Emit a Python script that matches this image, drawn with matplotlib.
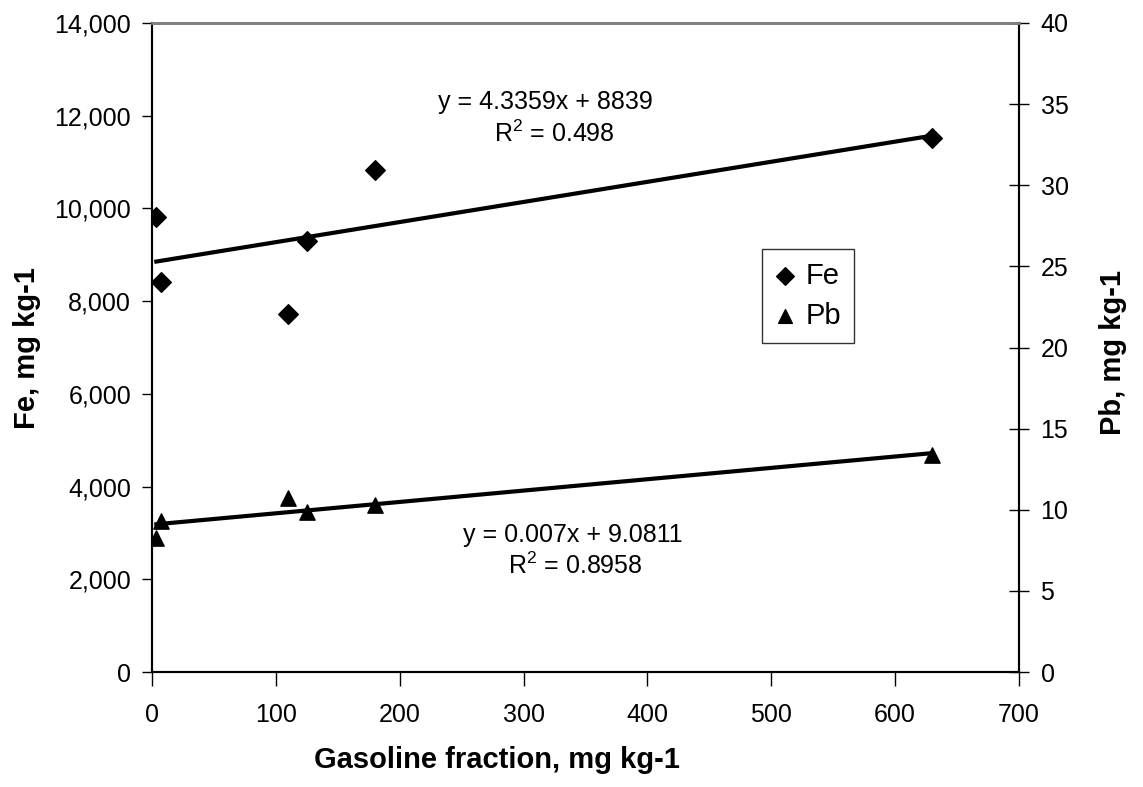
import matplotlib.pyplot as plt
import numpy as np

plt.rcParams['font.family'] = ['Liberation Sans', 'DejaVu Sans']
plt.rcParams['mathtext.default'] = 'regular'

# gasoline fraction (mg/kg) and metal contents
gasoline = [3.5, 7, 110, 125, 180, 630]
fe = [9820, 8420, 7720, 9300, 10830, 11510]
pb = [8.25, 9.3, 10.75, 9.85, 10.3, 13.4]

# fitted trend lines as printed on the chart
fe_slope, fe_icpt = 4.3359, 8839
pb_slope, pb_icpt = 0.007, 9.0811

fig = plt.figure(figsize=(11.43, 7.87), dpi=100)
ax = fig.add_axes([152 / 1143, 1 - 672 / 787, 867 / 1143, 649 / 787])
ax2 = ax.twinx()

xs = np.array([min(gasoline), max(gasoline)])
ax.plot(xs, fe_slope * xs + fe_icpt, color='black', lw=3, zorder=2)
ax2.plot(xs, pb_slope * xs + pb_icpt, color='black', lw=3, zorder=2)

h1 = ax.scatter(gasoline, fe, marker='D', s=10 ** 2, color='black', zorder=3, label='Fe')
h2 = ax2.scatter(gasoline, pb, marker='^', s=11 ** 2, color='black', zorder=3, label='Pb')

ax.set_xlim(0, 700)
ax.set_ylim(0, 14000)
ax2.set_ylim(0, 40)
ax.set_xticks(np.arange(0, 701, 100))
ax.set_yticks(np.arange(0, 14001, 2000))
ax.set_yticklabels([f'{v:,}' for v in range(0, 14001, 2000)])
ax2.set_yticks(np.arange(0, 41, 5))

ax.tick_params(axis='x', direction='out', length=10, width=1, labelsize=18, pad=12)
ax.tick_params(axis='y', direction='out', length=7, width=1, labelsize=18, pad=8)
ax2.tick_params(axis='y', direction='inout', length=15, width=1, labelsize=18, pad=8)

for a in (ax, ax2):
    a.spines['top'].set_color('#808080')
    a.spines['top'].set_linewidth(2)
    a.spines['left'].set_linewidth(1.5)
    a.spines['bottom'].set_linewidth(1.5)
    a.spines['right'].set_linewidth(1.5)

ax.text(318, 12300, 'y = 4.3359x + 8839', ha='center', va='center', fontsize=18)
ax.text(325, 11600, 'R$^2$ = 0.498', ha='center', va='center', fontsize=18)
ax.text(340, 2950, 'y = 0.007x + 9.0811', ha='center', va='center', fontsize=18)
ax.text(342, 2290, 'R$^2$ = 0.8958', ha='center', va='center', fontsize=18)

leg = ax2.legend(handles=[h1, h2], loc='upper left', bbox_to_anchor=(0.703, 0.652),
                 fontsize=21, frameon=True, fancybox=False, edgecolor='black',
                 handlelength=0.7, handletextpad=0.35, borderpad=0.45,
                 labelspacing=0.4, markerscale=0.9, borderaxespad=0)
leg.get_frame().set_linewidth(1)

fig.text(497 / 1143, 1 - 760 / 787, 'Gasoline fraction, mg kg-1', ha='center', va='center',
         fontsize=21, fontweight='bold')
fig.text(27 / 1143, 1 - 348 / 787, 'Fe, mg kg-1', rotation=90, ha='center', va='center',
         fontsize=21, fontweight='bold')
fig.text(1113 / 1143, 1 - 352 / 787, 'Pb, mg kg-1', rotation=90, ha='center', va='center',
         fontsize=21, fontweight='bold')

fig.savefig('out.png', dpi=100)
